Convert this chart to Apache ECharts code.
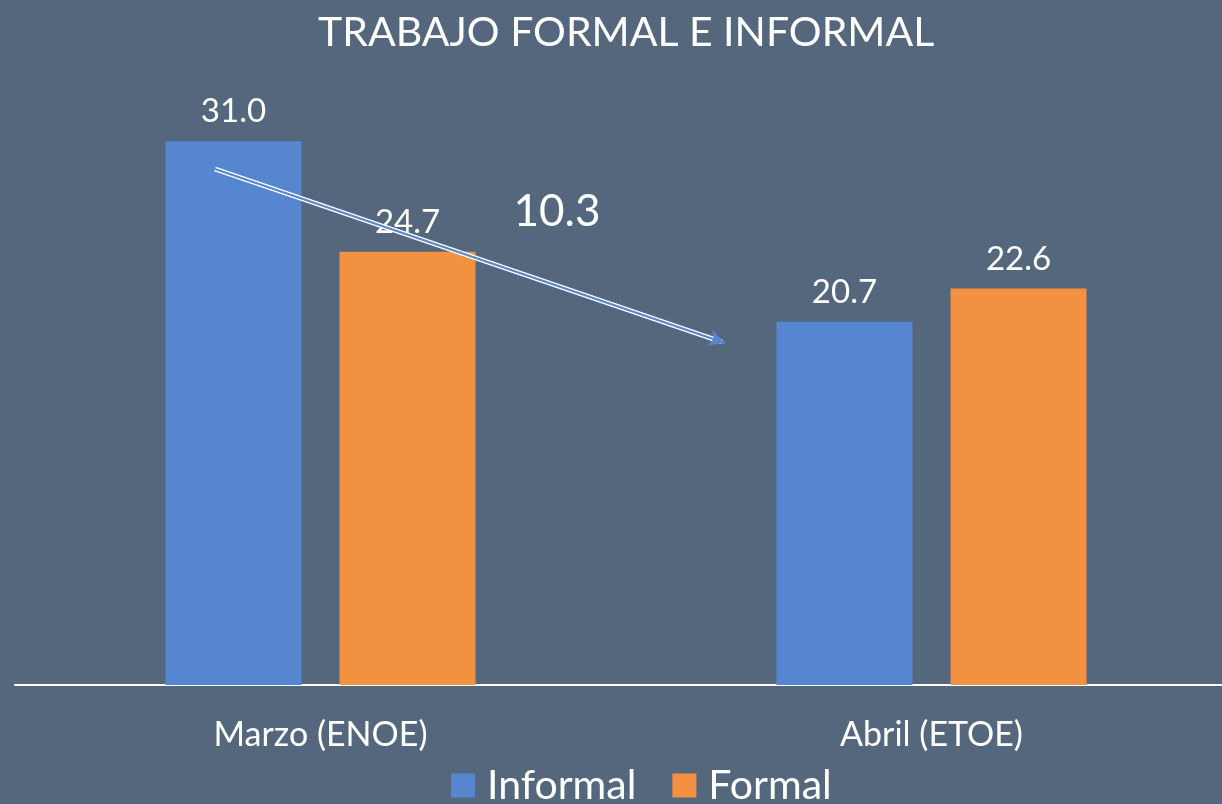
<!DOCTYPE html>
<html>
<head>
<meta charset="utf-8">
<script src="https://cdn.jsdelivr.net/npm/echarts@6/dist/echarts.min.js"></script>
<style>
  html, body { margin: 0; padding: 0; background: #55677d; }
  #myChart { width: 1222px; height: 804px; }
</style>
</head>
<body>
<div id="myChart"></div>
<script>
// datos
const categories = ['Marzo (ENOE)', 'Abril (ETOE)'];
const informal = [31.0, 20.7];
const formal = [24.7, 22.6];
const diffLabel = '10.3';

const myChart = echarts.init(document.getElementById('myChart'));

const labelStyle = {
  show: true,
  position: 'top',
  distance: 13,
  color: '#ffffff',
  fontFamily: 'Lato',
  fontSize: 33,
  formatter: p => p.value.toFixed(1)
};

const option = {
  backgroundColor: '#55677d',
  animation: false,
  title: {
    text: 'TRABAJO FORMAL E INFORMAL',
    left: 313,
    top: 7,
    textStyle: { color: '#ffffff', fontFamily: 'Lato', fontWeight: 'normal', fontSize: 41 }
  },
  legend: {
    left: 446,
    bottom: -7,
    itemWidth: 24,
    itemHeight: 24,
    itemGap: 36,
    icon: 'rect',
    textStyle: { color: '#ffffff', fontFamily: 'Lato', fontSize: 41, padding: [0, 0, 0, 7] }
  },
  grid: { left: 15, right: -15, top: 71, bottom: 119, outerBoundsMode: 'none' },
  xAxis: {
    type: 'category',
    data: categories,
    axisLine: { lineStyle: { color: '#ffffff', width: 2 } },
    axisTick: { show: false },
    axisLabel: { color: '#ffffff', fontFamily: 'Lato', fontSize: 34, margin: 33 }
  },
  yAxis: {
    type: 'value',
    min: 0,
    max: 35,
    show: false,
    splitLine: { show: false }
  },
  series: [
    {
      name: 'Informal',
      type: 'bar',
      data: informal,
      barWidth: 136,
      barGap: '28%',
      itemStyle: { color: '#5586cf' },
      label: labelStyle,
      markLine: {
        silent: true,
        symbol: ['none', 'none'],
        label: { show: false },
        lineStyle: { color: '#ffffff', width: 5, type: 'solid' },
        data: [[{ x: 215, y: 169 }, { x: 722, y: 342 }]]
      }
    },
    {
      name: 'Formal',
      type: 'bar',
      data: formal,
      barWidth: 136,
      itemStyle: { color: '#f29240' },
      label: labelStyle,
      markLine: {
        silent: true,
        symbol: ['none', 'arrow'],
        symbolSize: [12, 16],
        label: {
          show: true,
          position: 'middle',
          formatter: diffLabel,
          color: '#ffffff',
          fontFamily: 'Lato',
          fontSize: 44,
          rotate: 0,
          offset: [87, -17]
        },
        lineStyle: { color: '#5586cf', width: 2, type: 'solid' },
        itemStyle: { color: '#5586cf' },
        data: [[{ x: 215, y: 169 }, { x: 725, y: 343 }]]
      }
    }
  ]
};

myChart.setOption(option, true);
</script>
</body>
</html>
